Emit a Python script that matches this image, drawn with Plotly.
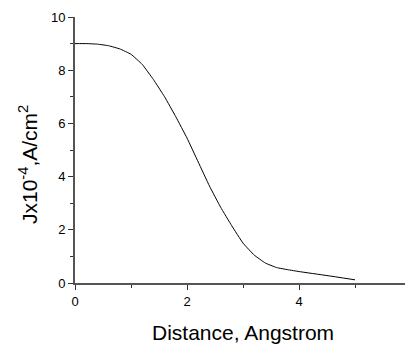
import plotly.graph_objects as go

distance = [0, 0.2, 0.4, 0.6, 0.8, 1.0, 1.2, 1.4, 1.6, 1.8, 2.0, 2.2, 2.4, 2.6, 2.8,
            3.0, 3.2, 3.4, 3.6, 3.8, 4.0, 4.5, 5.0]
current = [9.0, 9.0, 8.98, 8.92, 8.8, 8.6, 8.22, 7.65, 7.0, 6.25, 5.45, 4.55, 3.65, 2.85, 2.15,
           1.5, 1.05, 0.75, 0.58, 0.5, 0.43, 0.28, 0.12]

x_ticks = [0, 2, 4, 6]
y_ticks = [0, 2, 4, 6, 8, 10]
x_title = "Distance, Angstrom"
y_title = "Jx10<sup>-4</sup>,A/cm<sup>2</sup>"

fig = go.Figure(go.Scatter(x=distance, y=current, mode="lines",
                           line=dict(color="black", width=1, shape="spline", smoothing=0.3)))

font = dict(family="Liberation Sans, Arial, sans-serif", color="black")
axis_common = dict(showgrid=False, zeroline=False, showline=True, linecolor="#555555", linewidth=2,
                   ticks="outside", ticklen=5, tickwidth=1, tickcolor="#333333",
                   tickfont=dict(size=13, **font), automargin=False, ticklabeloverflow="allow",
                   minor=dict(ticks="outside", ticklen=3, tickwidth=1, tickcolor="#333333"))

fig.update_xaxes(range=[0, 6], tickvals=x_ticks, minor_dtick=1, **axis_common)
fig.update_yaxes(range=[0, 10], tickvals=y_ticks, minor_dtick=1, **axis_common)

fig.add_annotation(text=x_title, xref="paper", yref="paper", x=0.5, y=0,
                   xanchor="center", yanchor="middle", yshift=-49, showarrow=False,
                   font=dict(size=21, **font))
fig.add_annotation(text=y_title, xref="paper", yref="paper", x=0, y=0.5,
                   xanchor="center", yanchor="middle", xshift=-47, yshift=-15, textangle=-90,
                   showarrow=False, font=dict(size=21, **font))

fig.update_layout(width=405, height=336, margin=dict(l=67, r=2, t=9, b=61),
                  plot_bgcolor="white", paper_bgcolor="white", showlegend=False)

fig.write_html("out.html")
